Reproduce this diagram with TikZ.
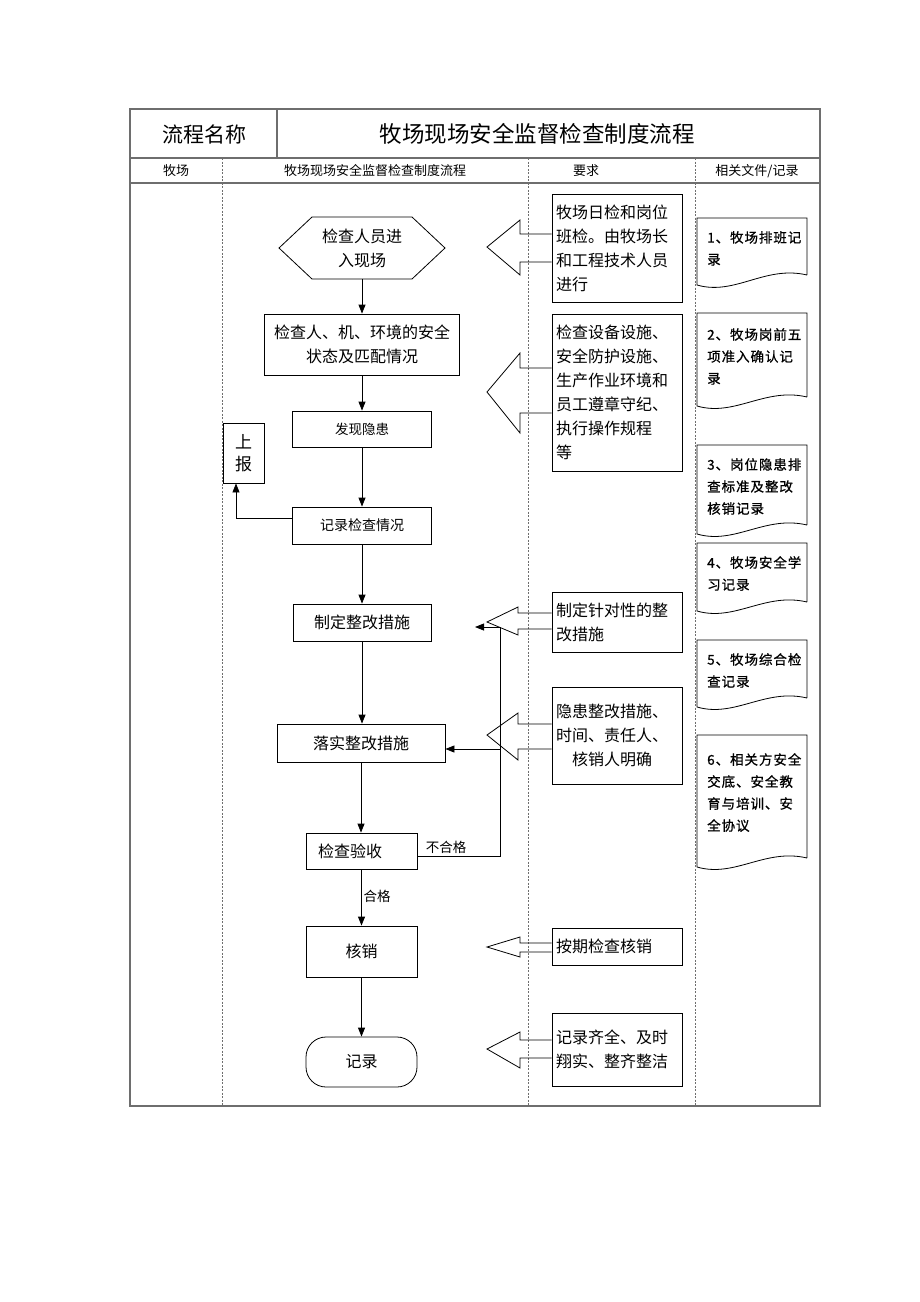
\documentclass[tikz,border=0pt]{standalone}
\usepackage{fontspec}
\setmainfont{Noto Sans CJK SC}
\newfontfamily\docfont[LetterSpace=7,FakeBold=0.8]{Noto Sans CJK SC}
\usetikzlibrary{arrows.meta}
\definecolor{tbl}{RGB}{110,110,110}
\begin{document}
\begin{tikzpicture}[x=1pt,y=-1pt,
  fs/.style={font=\fontsize{#1}{24}\selectfont},
  box/.style={draw, line width=0.8pt, inner sep=0pt, align=center},
  req/.style={draw, line width=0.8pt, minimum width=130pt, text width=122pt, inner xsep=4pt, inner ysep=0pt, align=left, font=\fontsize{16}{24}\selectfont},
  arr/.style={line width=0.8pt, -{Triangle[length=9pt,width=7pt]}},
  ln/.style={line width=0.8pt},
  blk/.style={line width=0.8pt, line join=miter},
  docs/.style={line width=0.8pt},
  doct/.style={anchor=north west, inner sep=0pt, align=left, font=\docfont\fontsize{13.5}{22}\selectfont},
  tline/.style={draw=tbl, line width=1.2pt},
  cline/.style={draw=tbl, line width=0.6pt, dash pattern=on 2pt off 1.5pt}
]
\useasboundingbox (0,0) rectangle (920,1302);

% table frame
\draw[cline] (222,158) -- (222,1106);
\draw[cline] (528,158) -- (528,1106);
\draw[cline] (695,158) -- (695,1106);
\draw[tline] (130,109) rectangle (820,1106);
\draw[tline] (277,109) -- (277,158);
\draw[tline] (130,158) -- (820,158);
\draw[tline] (130,183) -- (820,183);

\node[font=\fontsize{21}{24}\selectfont] (t1) at (204,134) {流程名称};
\node[font=\fontsize{22.5}{24}\selectfont] (t2) at (537,134) {牧场现场安全监督检查制度流程};
\node[fs=13] (h1) at (176,171) {牧场};
\node[fs=13] (h2) at (375,171) {牧场现场安全监督检查制度流程};
\node[fs=13] (h3) at (586,171) {要求};
\node[fs=13] (h4) at (757,171) {相关文件/记录};

% flow nodes
\node[box, draw=none, minimum width=166pt, minimum height=62pt, fs=16] (hex) at (362,248) {检查人员进\\入现场};
\draw[ln] (279,248) -- (312,217) -- (412,217) -- (445,248) -- (412,279) -- (312,279) -- cycle;
\node[box, minimum width=195pt, minimum height=61pt, fs=16] (chk) at (362,344.5) {检查人、机、环境的安全\\状态及匹配情况};
\node[box, minimum width=139pt, minimum height=36pt, fs=13.5] (find) at (362,429) {发现隐患};
\node[box, minimum width=41pt, minimum height=60pt, font=\fontsize{17}{22}\selectfont] (up) at (243.5,453) {上\\报};
\node[box, minimum width=139pt, minimum height=37pt, fs=14] (rec) at (362,525.5) {记录检查情况};
\node[box, minimum width=138pt, minimum height=37pt, fs=16] (mk) at (362,622.5) {制定整改措施};
\node[box, minimum width=168pt, minimum height=38pt, fs=16] (impl) at (361,743) {落实整改措施};
\node[box, text width=87pt, inner xsep=12pt, align=left, minimum height=36pt, fs=16] (acc) at (361.5,851) {检查验收};
\node[box, minimum width=111pt, minimum height=51pt, fs=16] (hx) at (361.5,951.5) {核销};
\node[box, minimum width=111pt, minimum height=50pt, rounded corners=20pt, fs=16] (rc) at (361.5,1062) {记录};

% flow arrows
\draw[arr] (hex.south) -- (hex.south |- chk.north);
\draw[arr] (chk.south) -- (chk.south |- find.north);
\draw[arr] (find.south) -- (find.south |- rec.north);
\draw[arr] ([yshift=7.5pt]rec.west) -| ([xshift=-7.5pt]up.south);
\draw[arr] (rec.south) -- (rec.south |- mk.north);
\draw[arr] (mk.south) -- (mk.south |- impl.north);
\draw[arr] (impl.south) -- (impl.south |- acc.north);
\draw[arr] (acc.south) -- (acc.south |- hx.north);
\draw[arr] (hx.south) -- (hx.south |- rc.north);
\node[fs=13.5] (ok) at (377,896) {合格};

\coordinate (rt) at (500,627);
\coordinate (mkarr) at (475,627);
\coordinate (ri) at (500,749);
\draw[ln] ([yshift=-5pt]acc.east) -| (rt);
\draw[arr] (rt) -- (mkarr);
\draw[arr] (ri) -- (ri -| impl.east);
\node[fs=13.5] (ng) at (446,847) {不合格};

% requirement boxes
\node[req, minimum height=108pt] (r1) at (617,248) {牧场日检和岗位\\班检。由牧场长\\和工程技术人员\\进行};
\node[req, minimum height=157pt] (r2) at (617,392.5) {检查设备设施、\\安全防护设施、\\生产作业环境和\\员工遵章守纪、\\执行操作规程\\等};
\node[req, minimum height=60pt] (r3) at (617,622) {制定针对性的整\\改措施};
\node[req, minimum height=97pt] (r4) at (617,735.5) {隐患整改措施、\\时间、责任人、\\\hspace*{1em}核销人明确};
\node[req, minimum height=37pt] (r5) at (617,946.5) {按期检查核销};
\node[req, minimum height=73pt] (r6) at (617,1049.5) {记录齐全、及时\\翔实、整齐整洁};

% block arrows
\draw[blk] (r1.west |- 0,234) -- (520,234) -- (520,220) -- (487,247) -- (520,275) -- (520,262) -- (r1.west |- 0,262);
\draw[blk] (r2.west |- 0,368) -- (520,368) -- (520,353) -- (487,392) -- (520,433) -- (520,413) -- (r2.west |- 0,413);
\draw[blk] (r3.west |- 0,613) -- (518,613) -- (518,607) -- (487,622) -- (518,635) -- (518,629) -- (r3.west |- 0,629);
\draw[blk] (r4.west |- 0,724) -- (518,724) -- (518,713) -- (487,735) -- (518,760) -- (518,749) -- (r4.west |- 0,749);
\draw[blk] (r5.west |- 0,943) -- (520,943) -- (520,937) -- (487,947) -- (520,957) -- (520,952) -- (r5.west |- 0,952);
\draw[blk] (r6.west |- 0,1040) -- (520,1040) -- (520,1032) -- (487,1049) -- (520,1068) -- (520,1058) -- (r6.west |- 0,1058);

% documents
\draw[docs] (807,275) -- (807,218) -- (697,218) -- (697,285) .. controls (735,296) and (765,265) .. (807,275);
\draw[docs] (807,397) -- (807,313) -- (697,313) -- (697,406) .. controls (735,417) and (765,387) .. (807,397);
\draw[docs] (807,525) -- (807,445) -- (697,445) -- (697,534) .. controls (735,545) and (765,515) .. (807,525);
\draw[docs] (807,602) -- (807,543) -- (697,543) -- (697,611) .. controls (735,622) and (765,592) .. (807,602);
\draw[docs] (807,698) -- (807,640) -- (697,640) -- (697,707) .. controls (735,718) and (765,688) .. (807,698);
\draw[docs] (807,858) -- (807,735) -- (697,735) -- (697,867) .. controls (735,878) and (765,848) .. (807,858);

\node[doct] (d1) at (707,231) {1、牧场排班记\\录};
\node[doct] (d2) at (707,328) {2、牧场岗前五\\项准入确认记\\录};
\node[doct] (d3) at (707,458) {3、岗位隐患排\\查标准及整改\\核销记录};
\node[doct] (d4) at (707,556) {4、牧场安全学\\习记录};
\node[doct] (d5) at (707,653) {5、牧场综合检\\查记录};
\node[doct] (d6) at (707,753) {6、相关方安全\\交底、安全教\\育与培训、安\\全协议};
\end{tikzpicture}
\end{document}
